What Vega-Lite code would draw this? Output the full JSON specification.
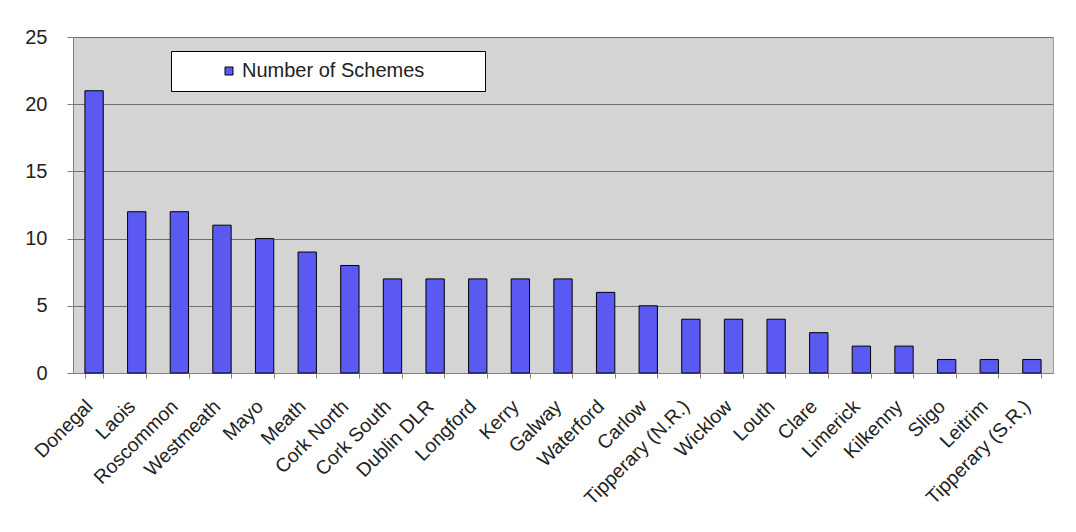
{
  "$schema": "https://vega.github.io/schema/vega-lite/v6.json",
  "width": 980,
  "height": 336,
  "autosize": {"type": "none"},
  "padding": {"left": 73, "top": 37, "right": 23, "bottom": 159},
  "background": "white",
  "config": {
    "font": "Liberation Sans",
    "view": {"fill": "#d4d4d4", "stroke": "#a0a0a0", "strokeWidth": 1}
  },
  "data": {
    "values": [
      {"county": "Donegal", "schemes": 21},
      {"county": "Laois", "schemes": 12},
      {"county": "Roscommon", "schemes": 12},
      {"county": "Westmeath", "schemes": 11},
      {"county": "Mayo", "schemes": 10},
      {"county": "Meath", "schemes": 9},
      {"county": "Cork North", "schemes": 8},
      {"county": "Cork South", "schemes": 7},
      {"county": "Dublin DLR", "schemes": 7},
      {"county": "Longford", "schemes": 7},
      {"county": "Kerry", "schemes": 7},
      {"county": "Galway", "schemes": 7},
      {"county": "Waterford", "schemes": 6},
      {"county": "Carlow", "schemes": 5},
      {"county": "Tipperary (N.R.)", "schemes": 4},
      {"county": "Wicklow", "schemes": 4},
      {"county": "Louth", "schemes": 4},
      {"county": "Clare", "schemes": 3},
      {"county": "Limerick", "schemes": 2},
      {"county": "Kilkenny", "schemes": 2},
      {"county": "Sligo", "schemes": 1},
      {"county": "Leitrim", "schemes": 1},
      {"county": "Tipperary (S.R.)", "schemes": 1}
    ]
  },
  "mark": {"type": "bar", "stroke": "#000000", "strokeWidth": 1},
  "encoding": {
    "x": {
      "field": "county",
      "type": "nominal",
      "sort": null,
      "scale": {"paddingInner": 0.57, "paddingOuter": 0.28},
      "axis": {
        "title": null,
        "labelAngle": -45,
        "labelAlign": "right",
        "labelBaseline": "middle",
        "labelFontSize": 19.5,
        "labelColor": "#222222",
        "labelPadding": 25,
        "labelOffset": -5,
        "bandPosition": 0,
        "tickBand": "extent",
        "ticks": true,
        "tickColor": "#808080",
        "tickSize": 5,
        "domainColor": "#808080",
        "grid": false,
        "labelOverlap": false
      }
    },
    "y": {
      "field": "schemes",
      "type": "quantitative",
      "scale": {"domain": [0, 25]},
      "axis": {
        "title": null,
        "values": [0, 5, 10, 15, 20, 25],
        "labelFontSize": 20,
        "labelColor": "#222222",
        "labelPadding": 20,
        "tickColor": "#808080",
        "tickSize": 6,
        "domainColor": "#808080",
        "gridColor": "#707070",
        "gridWidth": 1
      }
    },
    "color": {
      "datum": "Number of Schemes",
      "type": "nominal",
      "scale": {"range": ["#5a5af2"]},
      "legend": {
        "title": null,
        "orient": "none",
        "legendX": 98,
        "legendY": 14,
        "padding": 10,
        "fillColor": "white",
        "strokeColor": "black",
        "symbolType": "square",
        "symbolSize": 64,
        "symbolStrokeColor": "#000000",
        "symbolStrokeWidth": 1,
        "symbolOffset": 38,
        "labelFontSize": 20,
        "labelColor": "#222222",
        "labelLimit": 400,
        "labelOffset": 3,
        "labelExpr": "datum.label + '\u00a0\u00a0\u00a0\u00a0\u00a0\u00a0\u00a0\u00a0\u00a0\u200b'"
      }
    }
  }
}
